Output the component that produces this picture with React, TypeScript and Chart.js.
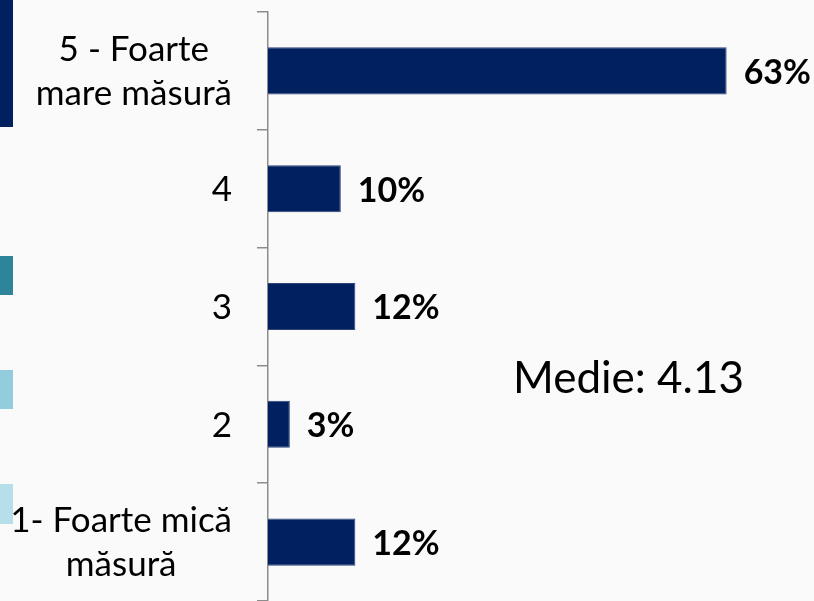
import React, { useEffect, useRef } from "react";
import { Chart, registerables } from "chart.js";

Chart.register(...registerables);

const categories: string[][] = [
  ["5 - Foarte", "mare măsură"],
  ["4"],
  ["3"],
  ["2"],
  ["1- Foarte mică", "măsură"],
];
const values: number[] = [63, 10, 12, 3, 12];
const valueLabels: string[] = ["63%", "10%", "12%", "3%", "12%"];
const meanText = "Medie: 4.13";
const legendSwatches: { color: string; top: number; height: number }[] = [
  { color: "#002060", top: 0, height: 127 },
  { color: "#2e8499", top: 256, height: 39 },
  { color: "#93cddd", top: 370, height: 39 },
  { color: "#b7dfe9", top: 484, height: 40 },
];

const FONT = "Lato, 'Liberation Sans', sans-serif";
const TICK_SIZE = 35;
const VALUE_SIZE = 34;
const MEAN_SIZE = 44;

const labelPlugin = {
  id: "customLabels",
  afterDraw(chart: any) {
    const ctx = chart.ctx;
    const yScale = chart.scales.y;
    const xScale = chart.scales.x;
    ctx.save();
    // category labels
    ctx.font = `${TICK_SIZE}px ${FONT}`;
    ctx.fillStyle = "#000000";
    ctx.textBaseline = "middle";
    ctx.textAlign = "center";
    const right = chart.chartArea.left - 36;
    const lh = 44;
    categories.forEach((lines, i) => {
      const y = yScale.getPixelForValue(i);
      const maxW = Math.max(...lines.map((l) => ctx.measureText(l).width));
      const cx = right - maxW / 2;
      const startY = y - ((lines.length - 1) * lh) / 2 + 1;
      lines.forEach((l, j) => ctx.fillText(l, cx, startY + j * lh));
    });
    // value labels
    ctx.font = `bold ${VALUE_SIZE}px ${FONT}`;
    ctx.textAlign = "left";
    values.forEach((v, i) => {
      const x = xScale.getPixelForValue(v) + 17;
      const y = yScale.getPixelForValue(i) + 2;
      ctx.fillText(valueLabels[i], x, y);
    });
    // mean text
    ctx.font = `${MEAN_SIZE}px ${FONT}`;
    ctx.textBaseline = "alphabetic";
    ctx.fillText(meanText, 513, 393);
    ctx.restore();
  },
};

export default function App() {
  const ref = useRef<HTMLCanvasElement>(null);
  useEffect(() => {
    document.body.style.margin = "0";
    document.body.style.background = "#fafafa";
    const chart = new Chart(ref.current!, {
      type: "bar",
      data: {
        labels: categories.map((c) => c.join(" ")),
        datasets: [
          {
            data: values,
            backgroundColor: "#002060",
            borderColor: "#2c4478",
            borderWidth: 1,
            barPercentage: 0.4,
            categoryPercentage: 1,
          },
        ],
      },
      options: {
        indexAxis: "y",
        animation: false,
        responsive: false,
        maintainAspectRatio: false,
        layout: { padding: { top: 12, right: 0, bottom: 0, left: 0 } },
        plugins: { legend: { display: false }, tooltip: { enabled: false } },
        scales: {
          x: { display: false, min: 0, max: 75 },
          y: {
            afterFit: (s: any) => {
              s.width = 268;
              s.paddingTop = 0;
              s.paddingBottom = 0;
            },
            grid: {
              display: true,
              drawOnChartArea: false,
              drawTicks: true,
              tickLength: 11,
              color: "#8c8c8c",
              lineWidth: 1.5,
              offset: true,
            },
            border: { display: true, color: "#8c8c8c", width: 1.5 },
            ticks: { display: false },
          },
        },
      },
      plugins: [labelPlugin],
    });
    return () => chart.destroy();
  }, []);
  return (
    <div style={{ position: "relative", width: 814, height: 601, background: "#fafafa", overflow: "hidden" }}>
      {legendSwatches.map((s, i) => (
        <div
          key={i}
          style={{ position: "absolute", left: 0, top: s.top, width: 13, height: s.height, background: s.color }}
        />
      ))}
      <canvas ref={ref} width={814} height={601} style={{ position: "absolute", left: 0, top: 0 }} />
    </div>
  );
}
